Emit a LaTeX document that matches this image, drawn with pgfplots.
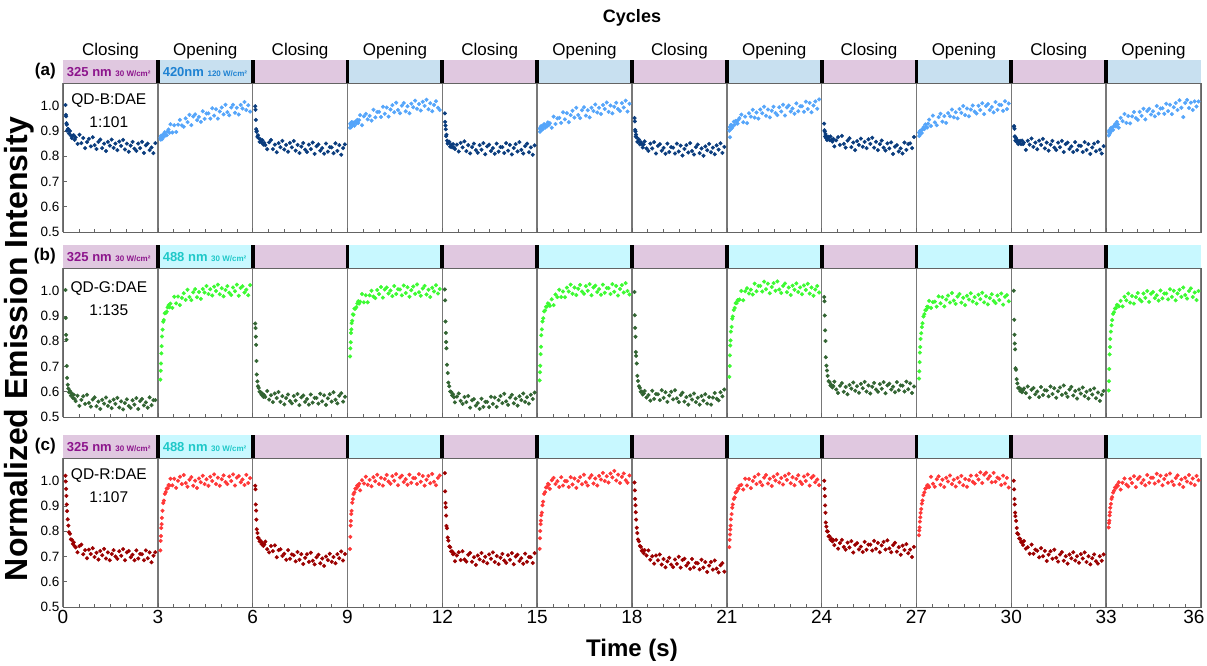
\documentclass[border=0pt]{standalone}
\usepackage{fontspec}
\setmainfont{Liberation Sans}
\usepackage{pgfplots}
\usepackage{pgfplotstable}
\pgfplotsset{compat=1.18}
\definecolor{stripP}{RGB}{224,200,224}
\definecolor{stripB}{RGB}{200,224,240}
\definecolor{stripC}{RGB}{200,248,255}
\definecolor{txtP}{RGB}{140,20,140}
\definecolor{txtB}{RGB}{30,130,210}
\definecolor{txtC}{RGB}{30,200,200}
\definecolor{aC}{RGB}{10,60,125}
\definecolor{aO}{RGB}{85,165,250}
\definecolor{bC}{RGB}{50,100,50}
\definecolor{bO}{RGB}{60,250,50}
\definecolor{cC}{RGB}{155,0,0}
\definecolor{cO}{RGB}{255,55,55}
\definecolor{frameg}{RGB}{100,100,100}
\definecolor{divg}{RGB}{120,120,120}

\pgfplotstableread{
t s1 s2 s3 s4 s5 s6 s7 s8 s9 s10 s11 s12
0.08 1003 873 998 913 970 910 951 901 929 894 917 882
0.09 964 866 984 930 936 897 938 915 903 880 919 896
0.10 958 881 944 926 922 909 904 875 898 892 909 903
0.11 931 870 907 915 907 915 898 914 879 885 878 889
0.12 925 880 897 921 880 904 878 906 888 901 878 901
0.13 901 867 900 935 885 920 886 924 873 891 862 894
0.15 907 880 877 921 862 909 874 922 880 903 872 911
0.17 907 887 883 934 850 906 857 913 864 892 857 902
0.19 890 877 872 930 856 920 857 921 874 906 864 914
0.22 900 895 857 921 857 927 866 937 877 915 848 904
0.25 882 885 867 937 838 913 847 925 864 907 857 919
0.28 872 883 854 930 846 925 856 940 878 926 861 927
0.31 881 898 863 944 835 918 848 938 864 916 848 918
0.34 883 906 846 932 848 934 835 929 858 914 862 936
0.37 865 893 853 943 835 924 847 945 869 929 848 926
0.40 875 927 844 963 829 931 859 951 839 945 854 913
0.46 849 894 828 923 846 913 831 965 863 920 825 952
0.52 885 923 855 958 819 957 821 935 876 961 861 939
0.58 852 896 864 968 853 928 850 957 845 934 846 967
0.64 872 925 828 946 835 950 831 931 881 923 870 932
0.70 832 944 846 960 859 952 856 970 849 955 837 959
0.76 856 922 816 941 820 932 811 957 834 968 854 930
0.82 869 917 852 984 844 974 841 984 862 937 828 958
0.88 839 950 836 954 811 946 848 953 871 959 862 975
0.94 875 935 861 975 836 971 822 973 836 932 845 951
1.00 844 964 827 976 850 935 833 949 854 971 869 944
1.06 829 923 845 955 824 963 810 985 824 958 831 976
1.12 857 957 818 996 814 980 850 970 860 985 854 960
1.18 866 966 853 968 844 953 817 996 845 954 822 988
1.24 832 943 835 993 826 992 836 960 870 974 846 946
1.30 850 956 860 957 852 963 834 985 838 950 861 979
1.36 821 936 822 985 808 951 811 954 857 987 834 988
1.42 857 978 845 1002 839 982 850 980 832 972 825 965
1.48 842 948 813 974 846 994 819 996 867 999 854 978
1.54 866 969 838 1012 821 961 842 971 849 963 836 958
1.60 833 970 852 983 832 982 803 963 873 989 861 999
1.66 850 949 826 970 810 954 829 994 834 958 817 969
1.72 824 990 817 1000 850 992 844 977 857 985 848 989
1.78 858 961 846 1011 818 979 815 1004 824 1001 854 990
1.84 841 986 828 978 837 1005 852 961 848 977 829 968
1.90 865 949 854 998 836 973 821 993 862 969 839 1008
1.96 827 977 809 970 813 992 807 1001 834 1000 817 979
2.02 850 993 840 1008 852 967 836 977 823 983 856 1004
2.08 818 966 847 994 822 1003 846 989 851 1010 824 967
2.14 842 1004 822 1020 845 987 812 968 831 967 842 994
2.20 857 975 832 988 807 1013 831 1009 855 999 841 1011
2.26 830 962 810 1007 833 976 802 978 809 1007 817 983
2.32 821 993 850 981 848 1001 839 998 838 983 856 1022
2.38 850 1004 818 1016 819 970 824 998 844 995 825 992
2.44 832 972 836 999 856 996 849 976 819 974 848 955
2.50 857 992 835 1024 825 1012 816 1016 831 1015 809 1011
2.56 813 965 812 986 811 987 834 987 811 984 835 1023
2.62 843 1003 851 1010 840 979 808 1011 854 1004 850 991
2.68 850 989 821 978 850 1010 843 974 825 1003 820 1012
2.74 824 1015 844 1003 816 993 826 1001 848 980 857 983
2.80 835 983 806 1018 835 1020 851 1017 851 1018 826 1017
2.86 812 1002 832 992 806 977 813 988 832 987 811 997
2.92 852 977 847 983 843 1008 837 1025 876 1009 840 1017
}\tabA

\pgfplotstableread{
t s1 s2 s3 s4 s5 s6 s7 s8 s9 s10 s11 s12
0.08 1003 648 870 740 1005 645 995 659 975 652 1000 605
0.09 892 683 852 772 962 677 903 702 958 681 885 642
0.10 825 712 818 796 878 703 853 744 902 717 826 690
0.11 806 752 786 833 833 749 818 783 843 755 791 748
0.12 702 781 722 847 797 778 757 803 801 777 768 777
0.13 655 819 668 872 772 824 742 838 737 809 693 809
0.15 628 846 641 881 707 847 712 857 703 832 687 838
0.17 612 877 622 906 674 878 663 889 684 856 650 863
0.19 598 884 615 905 636 891 643 898 663 871 633 884
0.22 603 911 600 929 622 918 622 924 642 898 615 908
0.25 585 912 599 929 601 922 615 932 638 907 616 915
0.28 594 917 588 935 599 937 600 951 625 923 603 930
0.31 576 934 592 950 586 937 601 951 627 925 609 931
0.34 588 943 580 958 590 950 589 963 617 937 598 944
0.37 571 935 586 949 578 947 593 962 622 935 606 942
0.40 563 949 579 957 558 940 603 965 640 960 613 938
0.46 584 932 603 987 581 966 577 999 609 932 595 960
0.52 544 976 569 954 593 943 587 962 595 955 621 938
0.58 568 950 586 982 564 985 565 998 624 957 577 976
0.64 582 977 559 954 552 975 604 1010 634 937 608 962
0.70 552 943 593 982 579 1004 572 989 600 978 615 989
0.76 588 972 575 1000 559 975 591 1004 619 950 590 953
0.82 556 990 599 977 583 997 590 985 590 975 601 979
0.88 541 964 560 971 537 974 567 1028 627 938 579 949
0.94 569 1004 583 1003 566 1012 606 998 612 965 619 975
1.00 578 975 550 987 571 997 576 1019 637 981 587 991
1.06 543 963 575 1015 545 1024 598 1019 604 953 606 966
1.12 561 994 589 973 555 988 560 997 622 991 605 958
1.18 532 1006 563 1005 532 1013 585 1036 596 961 582 989
1.24 568 974 554 1013 572 983 600 1006 631 948 621 972
1.30 553 995 583 989 540 1008 570 1028 614 977 591 999
1.36 577 968 565 1001 560 1023 606 990 639 987 614 956
1.42 544 1007 591 979 560 997 574 1015 601 953 576 988
1.48 561 993 547 1019 539 988 559 1030 625 972 602 995
1.54 535 1019 578 987 580 1018 587 1000 593 943 617 971
1.60 569 987 585 1006 552 1000 596 1037 620 980 588 982
1.66 552 1006 560 1005 577 1026 561 1005 635 965 625 961
1.72 576 981 571 982 540 982 579 991 609 990 594 1001
1.78 538 1016 549 1021 567 1013 549 1019 600 957 580 970
1.84 562 999 589 991 583 1020 585 1029 630 975 609 989
1.90 530 1024 557 1014 555 995 569 994 612 949 619 989
1.96 555 986 576 976 592 1006 593 1013 638 984 585 966
2.02 570 1010 575 1002 562 984 559 983 594 967 603 1006
2.08 544 978 553 1017 548 1024 576 1020 625 992 573 976
2.14 536 1003 592 988 577 992 549 1004 632 954 609 1000
2.20 566 1018 562 1025 588 1011 583 1029 609 978 593 962
2.26 549 992 586 994 554 1010 565 995 620 946 617 989
2.32 575 983 548 980 573 987 590 1013 598 971 583 1004
2.38 532 1013 574 1009 545 1026 553 986 638 986 600 976
2.44 563 998 590 1019 582 996 579 1021 606 960 573 1013
2.50 571 1024 561 985 567 1019 549 1003 625 951 607 983
2.56 546 980 598 1004 593 981 577 1028 624 981 589 969
2.62 558 1011 568 975 560 1007 595 989 601 963 613 999
2.68 537 1018 554 1012 578 1022 572 1013 640 989 574 1009
2.74 578 993 584 997 553 993 566 980 610 945 597 975
2.80 547 1004 594 1022 588 1030 598 1005 633 976 564 993
2.86 567 982 561 989 571 999 582 1019 595 983 588 963
2.92 567 1022 580 1007 597 985 609 993 621 958 603 999
}\tabB

\pgfplotstableread{
t s1 s2 s3 s4 s5 s6 s7 s8 s9 s10 s11 s12
0.08 1020 724 980 730 1030 730 993 737 1000 784 1000 815
0.09 997 762 966 778 958 772 962 766 968 803 966 833
0.10 968 781 906 822 912 801 928 787 939 815 928 842
0.11 940 813 882 841 895 828 903 807 902 838 906 863
0.12 906 828 846 868 862 842 875 822 873 855 874 875
0.13 880 853 808 881 821 863 846 847 835 873 860 893
0.15 847 881 793 913 812 874 814 868 818 888 841 908
0.17 822 912 774 927 775 903 793 893 800 909 813 928
0.19 796 921 773 947 763 917 767 906 799 922 792 935
0.22 790 948 760 954 740 948 760 928 780 943 788 953
0.25 768 955 762 969 737 955 742 934 780 954 771 961
0.28 766 969 749 970 720 973 738 953 766 969 770 973
0.31 750 970 753 981 720 975 723 957 770 971 757 972
0.34 756 983 742 979 709 988 725 969 760 982 758 983
0.37 741 981 748 988 712 985 713 968 765 981 746 980
0.40 736 1008 759 962 681 968 725 980 745 975 761 994
0.46 717 982 729 1002 704 1002 704 984 766 1016 731 965
0.52 741 1008 716 989 717 1011 724 965 731 988 737 992
0.58 747 972 742 1016 686 987 687 1008 753 976 711 1009
0.64 709 1000 721 984 721 998 701 981 766 1006 747 985
0.70 725 1016 744 1003 688 975 672 1007 738 1017 711 977
0.76 693 987 697 978 680 1014 704 971 727 984 727 1008
0.82 727 1023 725 1014 707 981 685 999 755 1004 723 991
0.88 710 991 729 998 714 999 708 1015 736 975 697 1018
0.94 733 976 702 1024 679 998 668 987 761 1012 733 975
1.00 698 1004 711 987 697 975 690 1025 716 997 701 1007
1.06 715 1014 687 1012 667 1014 657 995 746 1021 722 1015
1.12 688 980 725 981 704 985 681 982 753 987 682 991
1.18 722 1000 691 1007 689 1009 695 1012 728 1004 707 1003
1.24 705 971 708 1023 714 972 668 1023 739 977 721 982
1.30 730 1009 705 997 681 999 658 989 718 1011 691 1023
1.36 692 994 681 988 699 1014 688 1008 758 994 727 992
1.42 716 1020 718 1018 673 986 671 979 727 1019 695 1012
1.48 685 987 687 1000 708 1024 699 1016 747 982 680 1012
1.54 710 1006 709 1026 691 994 656 1001 747 1007 708 989
1.60 725 980 670 982 716 981 686 1026 724 976 717 1028
1.66 700 1016 695 1013 678 1011 691 993 762 1003 683 998
1.72 691 999 709 1020 702 1022 664 1011 731 1020 701 1020
1.78 721 1025 679 995 670 989 674 985 754 996 672 982
1.84 703 987 715 1006 695 1009 651 1020 717 989 708 1007
1.90 729 1012 683 984 710 981 690 1003 744 1021 693 1022
1.96 685 980 669 1024 684 1019 657 1028 758 1005 717 992
2.02 716 1006 697 992 675 1005 675 990 728 1033 684 1029
2.08 722 1021 707 1011 705 1031 673 1014 764 991 701 997
2.14 697 995 673 1010 687 999 649 982 732 1024 675 983
2.20 707 987 692 987 713 1018 687 1007 717 1032 709 1011
2.26 685 1017 663 1026 669 993 656 1022 745 1008 692 1021
2.32 724 999 700 996 700 1029 678 996 754 1018 716 986
2.38 692 1025 686 1019 707 1013 639 987 719 994 678 1005
2.44 710 981 711 981 682 1039 664 1017 737 1031 701 975
2.50 709 1012 679 1004 693 1001 678 999 707 996 669 1012
2.56 685 1019 698 1019 671 1024 648 1025 743 1012 693 997
2.62 724 994 673 990 711 991 684 981 726 1008 708 1023
2.68 693 1005 709 1027 679 1015 652 1012 749 983 681 990
2.74 716 983 693 996 698 1029 637 1019 713 1020 672 1009
2.80 677 1023 720 982 697 1002 665 994 727 989 701 983
2.86 703 991 684 1011 674 992 674 1005 698 1011 683 1019
2.92 717 1010 710 1021 713 1021 640 983 738 973 708 1002
}\tabC

\newcommand{\seg}[4]{\addplot[only marks, mark=*, mark size=1.85pt, color=#1] table[x expr=\thisrow{t}+#2, y expr=\thisrow{#3}/1000] {#4};}
\newcommand{\allseg}[3]{%
\seg{#1}{0}{s1}{#3}\seg{#2}{3}{s2}{#3}\seg{#1}{6}{s3}{#3}\seg{#2}{9}{s4}{#3}%
\seg{#1}{12}{s5}{#3}\seg{#2}{15}{s6}{#3}\seg{#1}{18}{s7}{#3}\seg{#2}{21}{s8}{#3}%
\seg{#1}{24}{s9}{#3}\seg{#2}{27}{s10}{#3}\seg{#1}{30}{s11}{#3}\seg{#2}{33}{s12}{#3}}
\newcommand{\strips}[1]{%
\fill[stripP] (axis cs:0,1.09) rectangle (axis cs:3,1.181);
\fill[#1] (axis cs:3,1.09) rectangle (axis cs:6,1.181);
\fill[stripP] (axis cs:6,1.09) rectangle (axis cs:9,1.181);
\fill[#1] (axis cs:9,1.09) rectangle (axis cs:12,1.181);
\fill[stripP] (axis cs:12,1.09) rectangle (axis cs:15,1.181);
\fill[#1] (axis cs:15,1.09) rectangle (axis cs:18,1.181);
\fill[stripP] (axis cs:18,1.09) rectangle (axis cs:21,1.181);
\fill[#1] (axis cs:21,1.09) rectangle (axis cs:24,1.181);
\fill[stripP] (axis cs:24,1.09) rectangle (axis cs:27,1.181);
\fill[#1] (axis cs:27,1.09) rectangle (axis cs:30,1.181);
\fill[stripP] (axis cs:30,1.09) rectangle (axis cs:33,1.181);
\fill[#1] (axis cs:33,1.09) rectangle (axis cs:36,1.181);
\fill[black] (axis cs:2.94,1.09) rectangle (axis cs:3.06,1.181);
\fill[black] (axis cs:5.94,1.09) rectangle (axis cs:6.06,1.181);
\fill[black] (axis cs:8.94,1.09) rectangle (axis cs:9.06,1.181);
\fill[black] (axis cs:11.94,1.09) rectangle (axis cs:12.06,1.181);
\fill[black] (axis cs:14.94,1.09) rectangle (axis cs:15.06,1.181);
\fill[black] (axis cs:17.94,1.09) rectangle (axis cs:18.06,1.181);
\fill[black] (axis cs:20.94,1.09) rectangle (axis cs:21.06,1.181);
\fill[black] (axis cs:23.94,1.09) rectangle (axis cs:24.06,1.181);
\fill[black] (axis cs:26.94,1.09) rectangle (axis cs:27.06,1.181);
\fill[black] (axis cs:29.94,1.09) rectangle (axis cs:30.06,1.181);
\fill[black] (axis cs:32.94,1.09) rectangle (axis cs:33.06,1.181);
}
\newcommand{\striptext}[2]{%
\node[anchor=base west, inner sep=0pt, text=txtP, font=\bfseries] at ([yshift=6.5pt]axis cs:0.12,1.09) {\fontsize{13}{14}\selectfont 325 nm \fontsize{8}{9}\selectfont 30 W/cm²};
\node[anchor=base west, inner sep=0pt, text=#1, font=\bfseries] at ([yshift=6.5pt]axis cs:3.15,1.09) {#2};}
\pgfplotsset{panel/.style={
  anchor=south west, scale only axis, width=1138pt, height=149pt,
  xmin=0, xmax=36, ymin=0.5, ymax=1.09, clip=false,
  axis line style={draw=frameg, line width=0.9pt},
  xtick={0,3,...,36}, minor x tick num=5,
  xmajorgrids, grid style={draw=divg, line width=1.4pt},
  ytick={0.5,0.6,0.7,0.8,0.9,1.0},
  xtick pos=bottom, ytick pos=left, tick align=inside,
  major tick length=4pt, minor tick length=3pt,
  tick style={draw=frameg, line width=0.6pt},
  yticklabel style={font=\fontsize{13.5}{14}\selectfont, /pgf/number format/.cd, fixed, fixed zerofill, precision=1, assume math mode=true},
  xticklabel style={font=\fontsize{19}{20}\selectfont},
}}

\begin{document}
\begin{tikzpicture}
\path[use as bounding box] (0,0) rectangle (1207pt,665pt);

% panel (a)
\begin{axis}[panel, at={(63pt,433pt)}, xticklabels={}]
\allseg{aC}{aO}{\tabA}
\strips{stripB}
\node[anchor=east, font=\bfseries\fontsize{17}{18}\selectfont] at (axis cs:-0.12,1.1355) {(a)};
\striptext{txtB}{\fontsize{13}{14}\selectfont 420nm \fontsize{8}{9}\selectfont 120 W/cm²}
\node[align=center, font=\fontsize{15.5}{23}\selectfont] at (axis cs:1.45,0.98) {QD-B:DAE\\1:101};
\node[anchor=base, font=\fontsize{17}{18}\selectfont] at ([yshift=5pt]axis cs:1.5,1.181) {Closing};
\node[anchor=base, font=\fontsize{17}{18}\selectfont] at ([yshift=5pt]axis cs:4.5,1.181) {Opening};
\node[anchor=base, font=\fontsize{17}{18}\selectfont] at ([yshift=5pt]axis cs:7.5,1.181) {Closing};
\node[anchor=base, font=\fontsize{17}{18}\selectfont] at ([yshift=5pt]axis cs:10.5,1.181) {Opening};
\node[anchor=base, font=\fontsize{17}{18}\selectfont] at ([yshift=5pt]axis cs:13.5,1.181) {Closing};
\node[anchor=base, font=\fontsize{17}{18}\selectfont] at ([yshift=5pt]axis cs:16.5,1.181) {Opening};
\node[anchor=base, font=\fontsize{17}{18}\selectfont] at ([yshift=5pt]axis cs:19.5,1.181) {Closing};
\node[anchor=base, font=\fontsize{17}{18}\selectfont] at ([yshift=5pt]axis cs:22.5,1.181) {Opening};
\node[anchor=base, font=\fontsize{17}{18}\selectfont] at ([yshift=5pt]axis cs:25.5,1.181) {Closing};
\node[anchor=base, font=\fontsize{17}{18}\selectfont] at ([yshift=5pt]axis cs:28.5,1.181) {Opening};
\node[anchor=base, font=\fontsize{17}{18}\selectfont] at ([yshift=5pt]axis cs:31.5,1.181) {Closing};
\node[anchor=base, font=\fontsize{17}{18}\selectfont] at ([yshift=5pt]axis cs:34.5,1.181) {Opening};
\end{axis}

% panel (b)
\begin{axis}[panel, at={(63pt,248pt)}, xticklabels={}]
\allseg{bC}{bO}{\tabB}
\strips{stripC}
\node[anchor=east, font=\bfseries\fontsize{17}{18}\selectfont] at (axis cs:-0.12,1.1355) {(b)};
\striptext{txtC}{\fontsize{13}{14}\selectfont 488 nm \fontsize{8}{9}\selectfont 30 W/cm²}
\node[align=center, font=\fontsize{15.5}{23}\selectfont] at (axis cs:1.45,0.968) {QD-G:DAE\\1:135};
\end{axis}

% panel (c)
\begin{axis}[panel, at={(63pt,58pt)}, xticklabels={0,3,6,9,12,15,18,21,24,27,30,33,\hspace{-14pt}36}]
\allseg{cC}{cO}{\tabC}
\strips{stripC}
\node[anchor=east, font=\bfseries\fontsize{17}{18}\selectfont] at (axis cs:-0.12,1.1355) {(c)};
\striptext{txtC}{\fontsize{13}{14}\selectfont 488 nm \fontsize{8}{9}\selectfont 30 W/cm²}
\node[align=center, font=\fontsize{15.5}{23}\selectfont] at (axis cs:1.45,0.982) {QD-R:DAE\\1:107};
\end{axis}

\node[font=\bfseries\fontsize{18}{19}\selectfont] at (632pt,647pt) {Cycles};
\node[rotate=90, font=\bfseries\fontsize{32}{34}\selectfont] at (19pt,316pt) {Normalized Emission Intensity};
\node[font=\bfseries\fontsize{24}{26}\selectfont] at (632pt,15pt) {Time (s)};
\end{tikzpicture}
\end{document}
